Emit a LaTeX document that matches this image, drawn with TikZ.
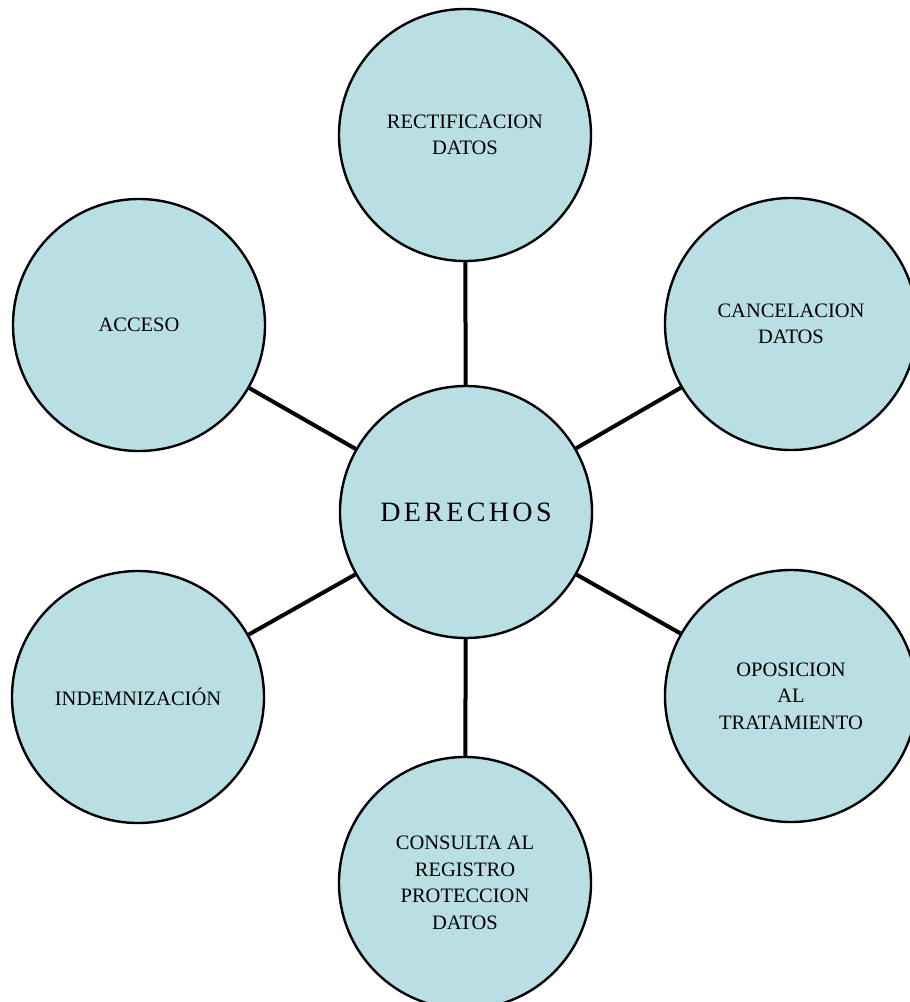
\documentclass[tikz,border=0pt]{standalone}
\usepackage{fontspec}
\setmainfont{Liberation Serif}
\newfontfamily\bigserif[LetterSpace=12]{Liberation Serif}
\definecolor{bubble}{RGB}{185,223,228}
\begin{document}
\begin{tikzpicture}[x=1pt,y=-1pt,
  bubblenode/.style={circle,draw=black,line width=2.4pt,fill=bubble,minimum size=252pt,inner sep=0pt,align=center,font=\fontsize{20.5}{26.5}\selectfont},
  link/.style={line width=4pt,black}]
\useasboundingbox (0,0) rectangle (910,1002);
\fill[white] (0,0) rectangle (910,1002);
\node[bubblenode,font=\bigserif\fontsize{28}{30}\selectfont] (c) at (466,512) {DERECHOS};
\node[bubblenode] (t) at (465,135) {RECTIFICACION\\DATOS};
\node[bubblenode] (tl) at (139,325) {ACCESO};
\node[bubblenode] (tr) at (791,324) {CANCELACION\\DATOS};
\node[bubblenode] (bl) at (138,697) {INDEMNIZACIÓN};
\node[bubblenode] (br) at (791,696) {OPOSICION\\AL\\TRATAMIENTO};
\node[bubblenode] (b) at (465,883) {CONSULTA AL\\REGISTRO\\PROTECCION\\DATOS};
\foreach \s in {t,tl,tr,bl,br,b} \draw[link] (c) -- (\s);
\end{tikzpicture}
\end{document}
